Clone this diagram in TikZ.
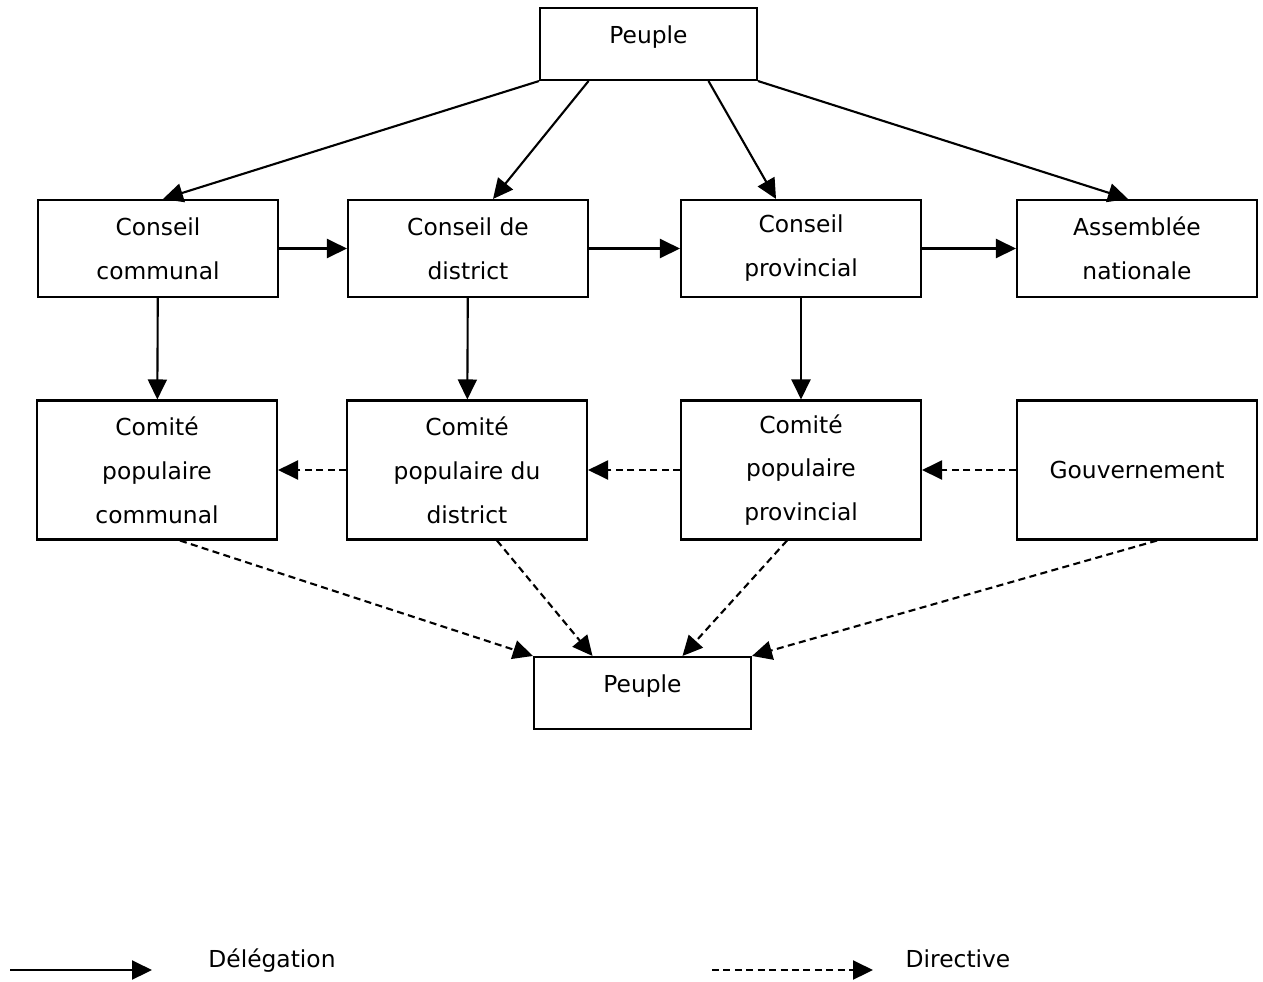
\documentclass[tikz,border=0pt]{standalone}
\usepackage{fontspec}
\setmainfont{DejaVu Sans}
\usetikzlibrary{arrows.meta,positioning}
\newcommand{\boxfont}{\fontsize{13.3}{25}\selectfont}

\begin{document}
\begin{tikzpicture}[>={Triangle[length=0.4cm,width=0.38cm]},x=0.02cm,y=-0.02cm,line width=1.2pt,
  box/.style={draw,align=center,font=\boxfont,minimum width=4.8cm},
  conseil/.style={box,minimum height=1.94cm},
  comite/.style={box,minimum height=2.78cm},
  peuple/.style={box,minimum width=4.34cm,minimum height=1.44cm,text depth=11pt},
  drv/.style={dash pattern=on 4pt off 2.5pt},
  legend/.style={font=\boxfont,anchor=base}]
\useasboundingbox (0,0) rectangle (1263,981);

\node[peuple]  (pt) at (648.5,44)  {Peuple};
\node[conseil] (cc) at (158,248.5) {Conseil\\communal};
\node[conseil] (cd) at (468,248.5) {Conseil de\\district};
\node[conseil] (cp) at (801,248.5) {Conseil\\provincial};
\node[conseil] (an) at (1137,248.5) {Assemblée\\nationale};
\node[comite]  (kc) at (157,470)   {Comité\\populaire\\communal};
\node[comite]  (kd) at (467,470)   {Comité\\populaire du\\district};
\node[comite]  (kp) at (801,470)   {Comité\\populaire\\provincial};
\node[comite]  (gv) at (1137,470)  {Gouvernement};
\node[peuple]  (pb) at (642.5,693) {Peuple};

% delegation
\path[->] (pt.south west) edge ([xshift=0.1cm]cc.north)
([xshift=-1.2cm]pt.south) edge ([xshift=0.5cm]cd.north)
([xshift=1.2cm]pt.south) edge ([xshift=-0.5cm]cp.north)
(pt.south east) edge ([xshift=-0.18cm]an.north)
(cc) edge (cd)
(cd) edge (cp)
(cp) edge (an)
(cc) edge (kc)
(cd) edge (kd)
(cp) edge (kp);

% directive
\path[->,drv] (kd) edge (kc)
(kp) edge (kd)
(gv) edge (kp)
([xshift=0.46cm]kc.south) edge (pb.north west)
([xshift=0.6cm]kd.south) edge ([xshift=-1cm]pb.north)
([xshift=-0.28cm]kp.south) edge ([xshift=0.8cm]pb.north)
([xshift=0.4cm]gv.south) edge (pb.north east);

% legend
\coordinate (l1) at (10,970);
\coordinate (l2) at (152,970);
\coordinate (l3) at (712,970);
\coordinate (l4) at (873,970);
\draw[->] (l1) -- (l2);
\draw[->,drv] (l3) -- (l4);
\node[legend] (ld) at (272,967) {Délégation};
\node[legend] (lr) at (958,967) {Directive};
\end{tikzpicture}
\end{document}
